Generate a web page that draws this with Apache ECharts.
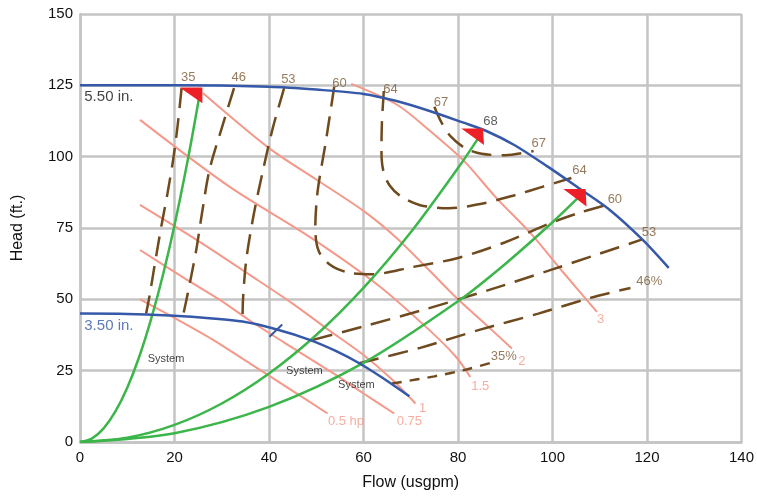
<!DOCTYPE html>
<html>
<head>
<meta charset="utf-8">
<script src="https://cdn.jsdelivr.net/npm/echarts@6/dist/echarts.min.js"></script>
<style>
  html, body { margin: 0; padding: 0; background: #fff; }
  #chart { width: 757px; height: 500px; }
</style>
</head>
<body>
<div id="chart"></div>
<script>
// impeller curves (flow usgpm, head ft)
const impeller550 = [[0, 125], [20, 125], [40, 124.5], [50, 123.5], [60, 122], [67, 119.5], [74, 116], [81, 112], [86, 109], [92, 104], [99, 96.5], [106, 88.5], [112, 81.5], [119, 71], [124.6, 61]];
const impeller350 = [[0, 45], [10, 44.9], [19, 44.3], [28, 43.3], [34.4, 42.2], [41.5, 39.5], [48.6, 35.8], [54, 32], [59.1, 27.6], [64, 22.5], [69.7, 16]];
const bepTick350 = [[40.1, 36.9], [42.8, 41.2]];
const bepTick550 = [[84.1, 107.6], [85.1, 109.6]];

// system curves
const system1 = [[0, 0], [2.5, 1.2], [5, 4.8], [7.5, 10.7], [10, 19], [12.5, 29.7], [15, 42.8], [17.5, 58.2], [20, 76], [23, 100.5], [25.3, 121.6]];
const system2 = [[0, 0], [10, 1.5], [20, 6], [30, 13.5], [40, 24], [50, 37.5], [60, 54], [70, 73.5], [80, 96], [84.3, 106.5]];
const system3 = [[0, 0], [20, 3.1], [40, 12.3], [60, 27.7], [80, 49.3], [90, 62.4], [100, 77], [105.5, 85.7]];

// power curves (hp)
const hp05 = [[12.7, 50], [20, 43.5], [28, 36], [36, 27.5], [44, 19], [52.4, 10]];
const hp075 = [[12.7, 67.3], [22, 57.5], [29.6, 49.8], [36, 42.5], [45, 33], [53.5, 24.2], [60, 17], [66.5, 10]];
const hp1 = [[12.7, 83.1], [25, 70.5], [36, 58.5], [45, 48.5], [52, 40], [60, 30.5], [66, 22], [71, 13.5]];
const hp15 = [[12.7, 112.9], [31.7, 89.4], [48.6, 71.9], [63.3, 54.7], [73.9, 39.3], [79.6, 29.8], [82.6, 22.8]];
const hp2 = [[26, 122.3], [40, 103], [50, 92], [60, 81], [67, 71.5], [74, 60], [80, 50], [86, 41], [91.4, 32.8]];
const hp3 = [[57.4, 125.5], [67.1, 118.2], [74.1, 109], [81.2, 98.6], [88.2, 85.4], [95.3, 73.3], [102.3, 59.4], [109.4, 45.6]];

// efficiency contours (%)
const eff35Left = [[21.5, 124], [20.6, 110], [19.7, 98.8], [18.5, 87], [17.2, 75.5], [15.8, 62], [14.8, 52], [14, 45]];
const eff35Right = [[66, 20.5], [75, 23], [82, 25.5], [87.5, 28]];
const eff46Left = [[32.6, 124], [30, 110], [27.4, 95.3], [25.8, 80], [24.6, 67.3], [22.8, 52], [21.8, 44.3]];
const eff46Right = [[59.1, 27.6], [72, 33], [84.5, 39.3], [97, 45], [108, 50.5], [116.5, 54]];
const eff53Left = [[43.2, 124], [40.8, 110], [38.7, 95], [36.8, 80], [35.2, 64], [34.5, 50], [34.4, 42.3]];
const eff53Right = [[49.3, 35.8], [60, 40.5], [72, 46], [86.6, 53.3], [100, 60.5], [110, 66], [119, 71]];
const eff60 = [[53.8, 124.5], [52, 105], [50.3, 88], [49.8, 75], [50.5, 67], [53, 62], [57, 59.3], [62, 58.8], [70, 61.2], [80, 64.5], [90, 70], [100, 77], [106, 80.5], [111.2, 83]];
const eff64 = [[64.3, 123], [63.9, 112], [63.8, 102], [64.2, 95], [65.5, 90], [68, 86], [72, 83], [78, 81.9], [85, 83.5], [92, 86.5], [98, 89.5], [104, 92.5]];
const eff67 = [[75, 117.5], [76.5, 112], [78.5, 107], [81.5, 103], [85, 101], [90, 100.5], [96, 102]];

// operating point arrows
const arrows = [
  [[21.1, 124.2], [25.9, 124.2], [25.9, 118.7]],
  [[80.7, 109.9], [85.3, 109.9], [85.5, 104.1]],
  [[102.3, 88.7], [107, 88.7], [107.2, 82.5]]
];

// labels
const effLabels = [[22.9, 127.8, '35'], [33.6, 127.8, '46'], [44.1, 126.9, '53'], [54.9, 125.5, '60'], [65.7, 123.4, '64'], [76.4, 118.9, '67'], [97.1, 104.7, '67'], [105.7, 95.3, '64'], [113.2, 85.1, '60'], [120.4, 73.4, '53'], [120.5, 56.4, '46%'], [89.7, 29.9, '35%']];
const bepLabel = [[86.9, 112.3, '68']];
const hpLabels = [[56.3, 7.1, '0.5 hp'], [69.7, 7.1, '0.75'], [72.5, 11.8, '1'], [84.7, 19.6, '1.5'], [93.5, 28.2, '2'], [110.2, 42.8, '3']];
const systemLabels = [[18.2, 29.1, 'System'], [47.5, 24.9, 'System'], [58.5, 20, 'System']];
const xTicks = [0, 20, 40, 60, 80, 100, 120, 140];
const yTicks = [0, 25, 50, 75, 100, 125, 150];

const blue = '#3558a8';
const green = '#3cb54a';
const pink = '#f4998a';
const brown = '#6f4a1f';
const font = 'Liberation Sans, Arial, sans-serif';

function curve(name, data, color, width, dash) {
  return {
    name: name,
    type: 'line',
    data: data,
    smooth: 0.3,
    smoothMonotone: 'none',
    showSymbol: false,
    silent: true,
    lineStyle: { color: color, width: width, type: dash || 'solid', cap: 'butt' },
    z: 3
  };
}

function labels(name, data, color, size, position) {
  return {
    name: name,
    type: 'scatter',
    data: data,
    symbolSize: 1,
    itemStyle: { color: 'rgba(0,0,0,0)' },
    silent: true,
    label: {
      show: true,
      position: position || 'inside',
      distance: 0,
      formatter: p => p.value[2],
      color: color,
      fontSize: size,
      fontFamily: font
    },
    z: 10
  };
}

const effDash = [20, 10];

const chart = echarts.init(document.getElementById('chart'));
chart.setOption({
  animation: false,
  grid: { left: 80, right: 14, top: 14, bottom: 58 },
  xAxis: {
    type: 'value',
    min: xTicks[0],
    max: xTicks[xTicks.length - 1],
    interval: 20,
    name: 'Flow (usgpm)',
    nameLocation: 'middle',
    nameGap: 33,
    nameTextStyle: { fontSize: 16, color: '#111', fontFamily: font },
    axisLine: { lineStyle: { color: '#c4c4c4', width: 2.5 } },
    axisTick: { show: false },
    axisLabel: { fontSize: 15, color: '#111', fontFamily: font, margin: 8 },
    splitLine: { show: true, lineStyle: { color: '#c4c4c4', width: 2.5 } }
  },
  yAxis: {
    type: 'value',
    min: yTicks[0],
    max: yTicks[yTicks.length - 1],
    interval: 25,
    name: 'Head (ft.)',
    nameLocation: 'middle',
    nameGap: 54,
    nameTextStyle: { fontSize: 16, color: '#111', fontFamily: font },
    axisLine: { show: true, lineStyle: { color: '#c4c4c4', width: 2.5 } },
    axisTick: { show: false },
    axisLabel: { fontSize: 15, color: '#111', fontFamily: font, margin: 7 },
    splitLine: { show: true, lineStyle: { color: '#c4c4c4', width: 2.5 } }
  },
  series: [
    curve('0.5 hp', hp05, pink, 2),
    curve('0.75 hp', hp075, pink, 2),
    curve('1 hp', hp1, pink, 2),
    curve('1.5 hp', hp15, pink, 2),
    curve('2 hp', hp2, pink, 2),
    curve('3 hp', hp3, pink, 2),
    curve('35% left', eff35Left, brown, 2.5, effDash),
    curve('35% right', eff35Right, brown, 2.5, [10, 8]),
    curve('46% left', eff46Left, brown, 2.5, effDash),
    curve('46% right', eff46Right, brown, 2.5, effDash),
    curve('53% left', eff53Left, brown, 2.5, effDash),
    curve('53% right', eff53Right, brown, 2.5, effDash),
    curve('60%', eff60, brown, 2.5, effDash),
    curve('64%', eff64, brown, 2.5, effDash),
    curve('67%', eff67, brown, 2.5, effDash),
    curve('System 1', system1, green, 2.5),
    curve('System 2', system2, green, 2.5),
    curve('System 3', system3, green, 2.5),
    curve('5.50 in.', impeller550, blue, 2.5),
    curve('3.50 in.', impeller350, blue, 2.5),
    curve('bep 3.50', bepTick350, blue, 2),
    curve('bep 5.50', bepTick550, blue, 2),
    {
      name: 'arrows',
      type: 'custom',
      data: arrows.map((a, i) => [i]),
      silent: true,
      renderItem: (params, api) => {
        const pts = arrows[params.dataIndex].map(p => api.coord(p));
        return { type: 'polygon', shape: { points: pts }, style: { fill: '#ee2027' } };
      },
      z: 6
    },
    labels('efficiency', effLabels, '#7b5a33', 13),
    labels('bep', bepLabel, '#333', 13),
    labels('hp', hpLabels, pink, 13),
    labels('system', systemLabels, '#111', 11),
    labels('5.50', [[0.8, 120.8, '5.50 in.']], '#111', 15, 'right'),
    labels('3.50', [[0.8, 40.7, '3.50 in.']], blue, 15, 'right')
  ]
});
</script>
</body>
</html>
